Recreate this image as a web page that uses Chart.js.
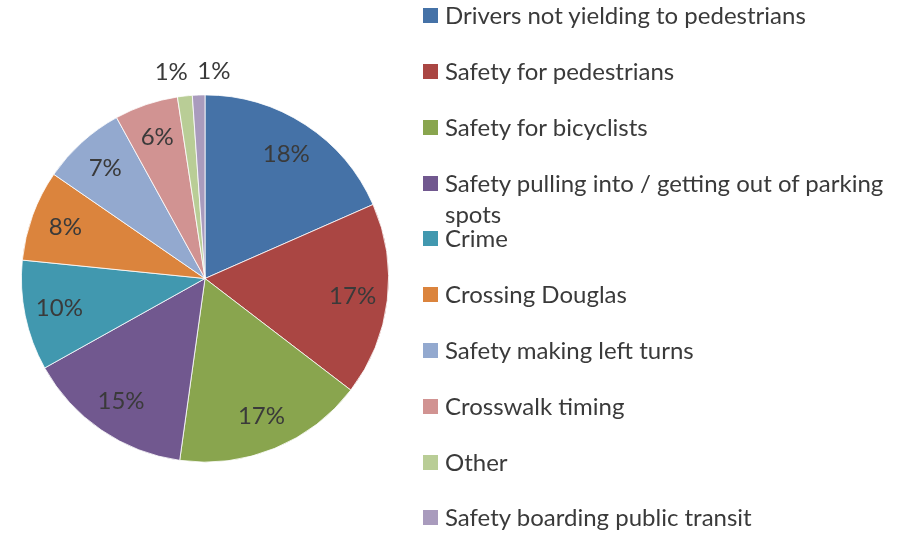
<!DOCTYPE html>
<html>
<head>
<meta charset="utf-8">
<script src="https://cdn.jsdelivr.net/npm/chart.js@4"></script>
<style>
  html, body { margin: 0; padding: 0; background: #fff; }
  #wrap { position: relative; width: 903px; height: 533px; }
  #c { position: absolute; left: 0; top: 0; }
  #legend { position: absolute; left: 423px; top: 0; width: 478px; font-family: Lato, "Open Sans", sans-serif; font-size: 24px; color: #3a3a3a; }
  .item { position: absolute; left: 0; display: flex; align-items: flex-start; }
  .sw { width: 15px; height: 15px; flex: none; margin-top: 9px; margin-right: 7px; }
  .txt { width: 448px; line-height: 31px; }
</style>
</head>
<body>
<div id="wrap">
  <canvas id="c" width="903" height="533"></canvas>
  <div id="legend"></div>
</div>
<script>
const categories = [
  "Drivers not yielding to pedestrians",
  "Safety for pedestrians",
  "Safety for bicyclists",
  "Safety pulling into / getting out of parking spots",
  "Crime",
  "Crossing Douglas",
  "Safety making left turns",
  "Crosswalk timing",
  "Other",
  "Safety boarding public transit"
];
const shares = [18.4, 17.0, 16.8, 14.7, 9.7, 8.0, 7.4, 5.6, 1.3, 1.1];
const colors = ["#4572A7", "#AA4643", "#89A54E", "#71588F", "#4198AF", "#DB843D", "#93A9CF", "#D19392", "#B9CD96", "#A99BBD"];

const FONT = 'Lato, "Open Sans", sans-serif';
const TEXT = '#3a3a3a';

// Legend (HTML, generated from categories/colors)
const legendTops = [-1, 55, 111, 167, 222, 278, 334, 390, 446, 501];
const lg = document.getElementById('legend');
categories.forEach((c, i) => {
  const d = document.createElement('div');
  d.className = 'item';
  d.style.top = legendTops[i] + 'px';
  d.innerHTML = '<div class="sw" style="background:' + colors[i] + '"></div><div class="txt"></div>';
  d.querySelector('.txt').textContent = c;
  lg.appendChild(d);
});

const sliceLabels = {
  id: 'sliceLabels',
  afterDatasetsDraw(chart) {
    const ctx = chart.ctx;
    const meta = chart.getDatasetMeta(0);
    const data = chart.data.datasets[0].data;
    const total = data.reduce((a, b) => a + b, 0);
    ctx.save();
    ctx.font = '24px ' + FONT;
    ctx.fillStyle = TEXT;
    ctx.textAlign = 'center';
    ctx.textBaseline = 'middle';
    meta.data.forEach((arc, i) => {
      const p = arc.getProps(['x', 'y', 'startAngle', 'endAngle', 'outerRadius'], true);
      const mid = (p.startAngle + p.endAngle) / 2;
      const pct = data[i] / total * 100;
      let r = p.outerRadius * 0.81;
      let nudge = 0;
      if (pct < 2) {
        r = p.outerRadius + 24;
        nudge = (i === categories.length - 1) ? 16 : -11;
      }
      const x = p.x + Math.cos(mid) * r + nudge;
      const y = p.y + Math.sin(mid) * r;
      ctx.fillText(Math.round(pct) + '%', x, y);
    });
    ctx.restore();
  }
};

new Chart(document.getElementById('c'), {
  type: 'pie',
  data: {
    labels: categories,
    datasets: [{
      data: shares,
      backgroundColor: colors,
      borderColor: '#ffffff',
      borderWidth: 0.8
    }]
  },
  options: {
    responsive: false,
    animation: false,
    layout: { padding: { top: 94, bottom: 70, left: 21, right: 514 } },
    plugins: {
      legend: { display: false },
      tooltip: { enabled: false }
    }
  },
  plugins: [sliceLabels]
});
</script>
</body>
</html>
